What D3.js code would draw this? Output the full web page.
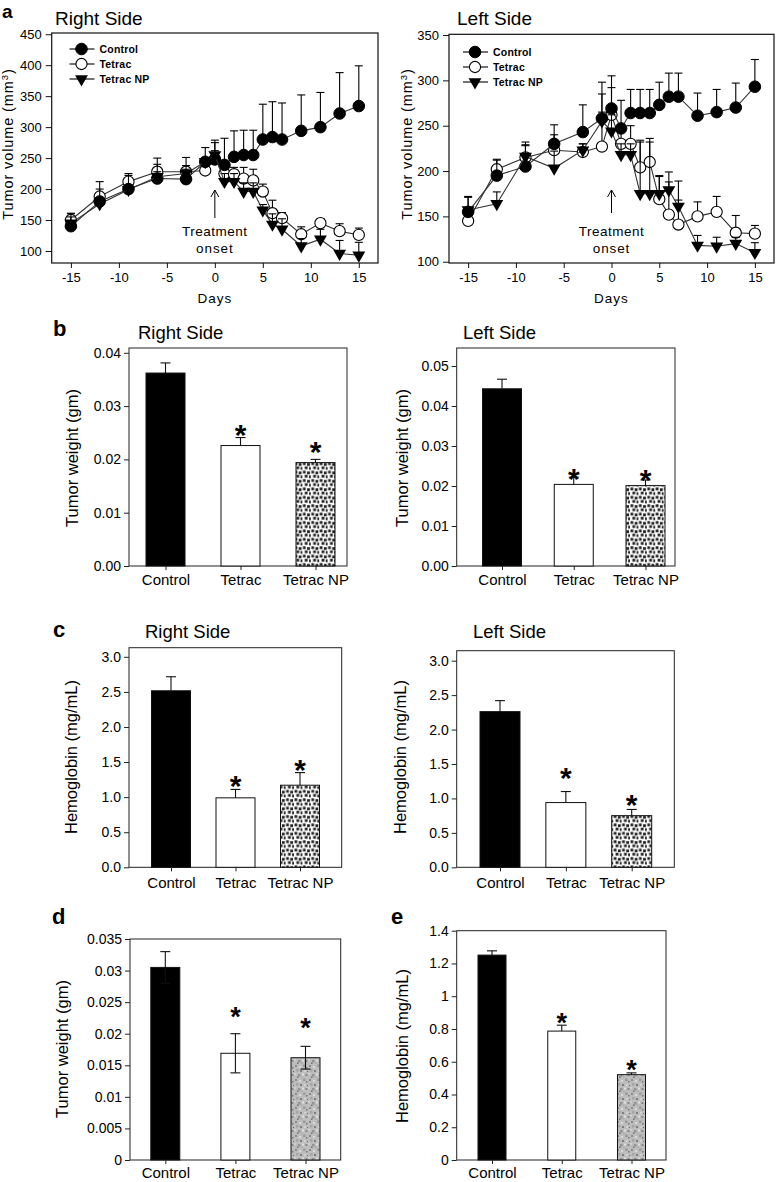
<!DOCTYPE html>
<html><head><meta charset="utf-8">
<script src="https://cdn.jsdelivr.net/npm/d3@7"></script>
<style>
body{margin:0;background:#fff}
svg{display:block}
text{font-family:"Liberation Sans",Arial,Helvetica,sans-serif;fill:#000}
</style>
</head><body>
<svg id="fig" width="777" height="1182"></svg>
<script>
// ---------- DATA ----------
const days = [-15,-12,-9,-6,-3,-1,0,1,2,3,4,5,6,7,9,11,13,15];
const seriesNames = ["Control","Tetrac","Tetrac NP"];
const dayTicks = [-15,-10,-5,0,5,10,15];

// Panel a, right side (tumor volume, mm3) and upper SEM
const rightControl    = [140,180,200,217,216,244,248,239,252,255,255,280,284,280,294,300,322,334];
const rightControlErr = [20,32,25,33,35,23,31,43,42,40,40,57,57,59,58,56,66,65];
const rightTetrac     = [150,188,212,228,228,230,248,225,224,217,214,196,161,153,127,145,132,126];
const rightTetracErr  = [11,12,10,12,10,8,27,15,11,18,18,12,21,9,12,7,12,11];
const rightNP         = [145,176,199,220,225,244,255,212,212,196,196,166,143,135,108,119,96,93];
const rightNPErr      = [10,9,8,8,7,6,7,13,13,14,14,9,17,17,12,16,21,21];
const rightVolTicks   = [100,150,200,250,300,350,400,450];

// Panel a, left side
const leftControl    = [155,195,205,230,243,258,269,247,264,264,264,273,282,282,261,265,270,293];
const leftControlErr = [17,18,24,21,30,40,36,31,26,26,26,25,26,26,25,25,27,30];
const leftTetrac     = [145,202,215,223,221,227,262,230,230,204,210,169,152,141,150,155,132,131];
const leftTetracErr  = [5,10,13,17,9,58,30,15,20,30,26,25,36,27,16,17,19,9];
const leftNP         = [157,164,216,203,223,255,244,218,218,175,175,175,179,161,118,117,120,110];
const leftNPErr      = [14,13,16,19,7,10,18,12,12,57,57,20,20,28,11,10,7,11];
const leftVolTicks   = [100,150,200,250,300,350];

// Bar panels
const categories = ["Control","Tetrac","Tetrac NP"];
const weightRight = [0.0362,0.0226,0.0194];   const weightRightErr = [0.0019,0.0015,0.0006];
const weightLeft  = [0.0443,0.0204,0.0201];   const weightLeftErr  = [0.0024,0.0018,0.0014];
const hbRight     = [2.516,0.99,1.17];        const hbRightErr     = [0.20,0.12,0.18];
const hbLeft      = [2.26,0.94,0.75];         const hbLeftErr      = [0.16,0.16,0.09];
const weightD     = [0.0305,0.0169,0.0162];   const weightDErr     = [0.0025,0.0031,0.0018];
const hbE         = [1.251,0.787,0.521];      const hbEErr         = [0.026,0.036,0.011];
const significant = [false,true,true];

const weightRightTicks = [0,0.01,0.02,0.03,0.04];
const weightLeftTicks  = [0,0.01,0.02,0.03,0.04,0.05];
const hbTicks          = [0,0.5,1.0,1.5,2.0,2.5,3.0];
const weightDTicks     = [0,0.005,0.01,0.015,0.02,0.025,0.03,0.035];
const hbETicks         = [0,0.2,0.4,0.6,0.8,1.0,1.2,1.4];

// ---------- DRAWING ----------
const svg = d3.select("#fig");
const defs = svg.append("defs");

// checker pattern (panels b, c)
const chk = defs.append("pattern").attr("id","checker").attr("patternUnits","userSpaceOnUse")
  .attr("width",8.4).attr("height",8.4);
chk.append("rect").attr("width",8.4).attr("height",8.4).attr("fill","#fff");
[[0.5,0.3],[4.7,1.1],[2.4,4.4],[6.6,5.0]].forEach(p=>{
  chk.append("rect").attr("x",p[0]).attr("y",p[1]).attr("width",2.8).attr("height",2.8).attr("fill","#222");
});
// mottled grey texture (panels d, e)
const mot = defs.append("pattern").attr("id","mottle").attr("patternUnits","userSpaceOnUse")
  .attr("width",14).attr("height",14);
mot.append("rect").attr("width",14).attr("height",14).attr("fill","#bdbdbd");
const spots = [[1,1,2,"#8a8a8a"],[5,2,2,"#d8d8d8"],[9,0.5,2.5,"#9a9a9a"],[12,3,1.5,"#777"],
  [2,5,2.5,"#a5a5a5"],[6,6,2,"#7e7e7e"],[10,6,2,"#d0d0d0"],[0,9,2,"#cfcfcf"],[4,10,2.5,"#939393"],
  [8,9.5,2,"#e0e0e0"],[11.5,10,2,"#888"],[3,12.5,1.5,"#6f6f6f"],[7,12.5,1.5,"#aaa"],[13,7,1,"#666"]];
spots.forEach(s=>mot.append("rect").attr("x",s[0]).attr("y",s[1]).attr("width",s[2]).attr("height",s[2]).attr("fill",s[3]));

function letter(t,x,y,size){
  svg.append("text").attr("x",x).attr("y",y).attr("font-size",size||22).attr("font-weight","bold").text(t);
}
function title(t,x,y,size){
  svg.append("text").attr("x",x).attr("y",y).attr("font-size",size||18.5).text(t);
}
function yTitle(t,x,yc,size,ls){
  svg.append("text").attr("transform",`translate(${x},${yc}) rotate(-90)`)
    .attr("text-anchor","middle").attr("font-size",size).attr("letter-spacing",ls||0).text(t);
}

function linePanel(cfg){
  const g = svg.append("g");
  const x = d3.scaleLinear().domain([-17,17]).range([cfg.x0,cfg.x1]);
  const y = d3.scaleLinear().domain(cfg.yDom).range([cfg.y1,cfg.y0]);
  g.append("rect").attr("x",cfg.x0).attr("y",cfg.y0).attr("width",cfg.x1-cfg.x0).attr("height",cfg.y1-cfg.y0)
    .attr("fill","none").attr("stroke","#111").attr("stroke-width",1.2);
  const ya = g.append("g").attr("transform",`translate(${cfg.x0},0)`)
    .call(d3.axisLeft(y).tickValues(cfg.yTicks).tickSize(6).tickPadding(4).tickFormat(d3.format("d")));
  const xa = g.append("g").attr("transform",`translate(0,${cfg.y1})`)
    .call(d3.axisBottom(x).tickValues(dayTicks).tickSize(5).tickPadding(5).tickFormat(d=>String(d)));
  [ya,xa].forEach(a=>{a.select(".domain").remove();
    a.selectAll("text").attr("font-size",13).attr("font-family",'"Liberation Sans",Arial,sans-serif').attr("fill","#111");
    a.selectAll("line").attr("stroke","#111");});
  const order = [1,0,2];
  order.forEach(si=>{
    const vals = cfg.series[si], errs = cfg.errs[si];
    const pts = days.map((d,i)=>({d, v:vals[i], e:errs[i]}));
    pts.forEach(p=>{
      g.append("line").attr("x1",x(p.d)).attr("x2",x(p.d)).attr("y1",y(p.v)).attr("y2",y(p.v+p.e))
        .attr("stroke","#000").attr("stroke-width",1.1);
      g.append("line").attr("x1",x(p.d)-4).attr("x2",x(p.d)+4).attr("y1",y(p.v+p.e)).attr("y2",y(p.v+p.e))
        .attr("stroke","#000").attr("stroke-width",1.1);
    });
    g.append("path").datum(pts).attr("fill","none").attr("stroke","#333").attr("stroke-width",1.1)
      .attr("d",d3.line().x(p=>x(p.d)).y(p=>y(p.v)));
    pts.forEach(p=>drawMarker(g,si,x(p.d),y(p.v)));
  });
  seriesNames.forEach((n,i)=>{
    const ly = cfg.legY + i*15;
    g.append("line").attr("x1",cfg.legX-12).attr("x2",cfg.legX+13).attr("y1",ly).attr("y2",ly)
      .attr("stroke","#000").attr("stroke-width",1.1);
    drawMarker(g,i,cfg.legX,ly);
    g.append("text").attr("x",cfg.legX+18).attr("y",ly+4).attr("font-size",10.5).attr("font-weight","bold")
      .attr("letter-spacing",0.2).attr("fill","#111").text(n);
  });
  const ax = x(0);
  g.append("line").attr("x1",ax).attr("x2",ax).attr("y1",cfg.arrowBottom).attr("y2",190).attr("stroke","#000").attr("stroke-width",1);
  g.append("path").attr("d",`M${ax-4},${197}L${ax},${190}L${ax+4},${197}`).attr("fill","none").attr("stroke","#000").attr("stroke-width",1);
  g.append("text").attr("x",ax).attr("y",236).attr("text-anchor","middle").attr("font-size",13.5).attr("letter-spacing",0.5).attr("fill","#111").text("Treatment");
  g.append("text").attr("x",ax).attr("y",253).attr("text-anchor","middle").attr("font-size",13.5).attr("letter-spacing",0.9).attr("fill","#111").text("onset");
  g.append("text").attr("x",x(0)).attr("y",303).attr("text-anchor","middle").attr("font-size",13.5).attr("letter-spacing",1).text("Days");
}
function drawMarker(g,si,cx,cy){
  if(si===0){
    g.append("circle").attr("cx",cx).attr("cy",cy).attr("r",5.8).attr("fill","#000").attr("stroke","#000");
  } else if(si===1){
    g.append("circle").attr("cx",cx).attr("cy",cy).attr("r",5.6).attr("fill","#fff").attr("stroke","#000").attr("stroke-width",1.1);
  } else {
    g.append("path").attr("transform",`translate(${cx},${cy}) rotate(180)`)
      .attr("d",d3.symbol(d3.symbolTriangle,72)()).attr("fill","#000");
  }
}

function barPanel(cfg){
  const g = svg.append("g");
  const x = d3.scalePoint().domain(categories).range([cfg.c0,cfg.c2]);
  const y = d3.scaleLinear().domain([0,cfg.yMax]).range([cfg.y1,cfg.y0]);
  g.append("rect").attr("x",cfg.x0).attr("y",cfg.y0).attr("width",cfg.x1-cfg.x0).attr("height",cfg.y1-cfg.y0)
    .attr("fill","none").attr("stroke","#222").attr("stroke-width",1);
  const data = categories.map((c,i)=>({c, v:cfg.vals[i], e:cfg.errs[i], s:significant[i], fill:cfg.fills[i]}));
  g.selectAll("rect.bar").data(data).join("rect").attr("class","bar")
    .attr("x",d=>x(d.c)-cfg.bw/2).attr("width",cfg.bw)
    .attr("y",d=>y(d.v)).attr("height",d=>y(0)-y(d.v))
    .attr("fill",d=>d.fill).attr("stroke","#111").attr("stroke-width",1);
  data.forEach(d=>{
    const lo = cfg.both ? d.v-d.e : d.v;
    g.append("line").attr("x1",x(d.c)).attr("x2",x(d.c)).attr("y1",y(lo)).attr("y2",y(d.v+d.e)).attr("stroke","#111").attr("stroke-width",1.1);
    g.append("line").attr("x1",x(d.c)-cfg.cap).attr("x2",x(d.c)+cfg.cap).attr("y1",y(d.v+d.e)).attr("y2",y(d.v+d.e)).attr("stroke","#111").attr("stroke-width",1.1);
    if(cfg.both){
      g.append("line").attr("x1",x(d.c)-cfg.cap).attr("x2",x(d.c)+cfg.cap).attr("y1",y(lo)).attr("y2",y(lo)).attr("stroke","#111").attr("stroke-width",1.1);
    }
  });
  data.forEach((d,i)=>{
    if(!d.s) return;
    const cy = y(d.v+d.e) - cfg.starGap[i];
    g.append("text").attr("x",x(d.c)).attr("y",cy+cfg.starSize*0.6).attr("text-anchor","middle")
      .attr("font-size",cfg.starSize).attr("font-weight","bold").text("*");
  });
  const ya = g.append("g").attr("transform",`translate(${cfg.x0},0)`)
    .call(d3.axisLeft(y).tickValues(cfg.ticks).tickSize(5).tickPadding(3).tickFormat(cfg.fmt));
  const xa = g.append("g").attr("transform",`translate(0,${cfg.y1})`)
    .call(d3.axisBottom(x).tickSize(4).tickPadding(cfg.xPad));
  [ya,xa].forEach(a=>{a.select(".domain").remove();
    a.selectAll("line").attr("stroke","#222");
    a.selectAll("text").attr("font-family",'"Liberation Sans",Arial,sans-serif').attr("fill","#111");});
  ya.selectAll("text").attr("font-size",14);
  xa.selectAll("text").attr("font-size",15);
}

// ----- panel a -----
letter("a",2,18,19);
title("Right Side",55,25,19);
title("Left Side",457,25,19);
linePanel({x0:51.7,x1:378,y0:33,y1:263,yDom:[80.6,452],yTicks:rightVolTicks,
  series:[rightControl,rightTetrac,rightNP],errs:[rightControlErr,rightTetracErr,rightNPErr],
  legX:81.5,legY:49,arrowBottom:218});
linePanel({x0:449,x1:774,y0:34.3,y1:263,yDom:[98.6,350.8],yTicks:leftVolTicks,
  series:[leftControl,leftTetrac,leftNP],errs:[leftControlErr,leftTetracErr,leftNPErr],
  legX:475,legY:52,arrowBottom:213});
svg.append("text").attr("transform","translate(13,144) rotate(-90)").attr("text-anchor","middle")
  .attr("font-size",14.5).attr("letter-spacing",0.9).html('Tumor volume (mm<tspan dy="-5" font-size="9.5">3</tspan><tspan dy="5">)</tspan>');
svg.append("text").attr("transform","translate(412,144) rotate(-90)").attr("text-anchor","middle")
  .attr("font-size",14.5).attr("letter-spacing",0.9).html('Tumor volume (mm<tspan dy="-5" font-size="9.5">3</tspan><tspan dy="5">)</tspan>');

// ----- panel b -----
letter("b",53,336);
title("Right Side",138,339);
title("Left Side",463,339);
const f2 = d3.format(".2f"), f1 = d3.format(".1f");
const fTrim = d=>d===0?"0":String(+d.toFixed(3));
barPanel({x0:129,x1:347,y0:348,y1:566,yMax:0.0409,ticks:weightRightTicks,fmt:f2,
  c0:165.5,c2:315.5,bw:39,vals:weightRight,errs:weightRightErr,fills:["#000","#fff","url(#checker)"],
  cap:5,both:false,starGap:[0,11,15],starSize:30,xPad:4});
barPanel({x0:456.7,x1:675,y0:348,y1:566,yMax:0.0545,ticks:weightLeftTicks,fmt:f2,
  c0:502,c2:645.5,bw:39,vals:weightLeft,errs:weightLeftErr,fills:["#000","#fff","url(#checker)"],
  cap:5,both:false,starGap:[0,6,8],starSize:30,xPad:4});
yTitle("Tumor weight (gm)",78,458,16.5);
yTitle("Tumor weight (gm)",408,458,16.5);

// ----- panel c -----
letter("c",53,637);
title("Right Side",145,638);
title("Left Side",473,638);
barPanel({x0:129,x1:341.7,y0:647.7,y1:867.3,yMax:3.13,ticks:hbTicks,fmt:f1,
  c0:171,c2:300,bw:39,vals:hbRight,errs:hbRightErr,fills:["#000","#fff","url(#checker)"],
  cap:5,both:false,starGap:[0,11,11],starSize:30,xPad:6.5});
barPanel({x0:456.7,x1:674.3,y0:650.7,y1:867.3,yMax:3.145,ticks:hbTicks,fmt:f1,
  c0:500,c2:631.7,bw:40,vals:hbLeft,errs:hbLeftErr,fills:["#000","#fff","url(#checker)"],
  cap:5,both:false,starGap:[0,22,12],starSize:30,xPad:6.5});
yTitle("Hemoglobin (mg/mL)",77,757,16.5);
yTitle("Hemoglobin (mg/mL)",406,757,16.5);

// ----- panel d -----
letter("d",52,924);
barPanel({x0:130,x1:340.7,y0:939,y1:1160,yMax:0.035,ticks:weightDTicks,fmt:fTrim,
  c0:165.3,c2:305.5,bw:29,vals:weightD,errs:weightDErr,fills:["#000","#fff","url(#mottle)"],
  cap:5,both:true,starGap:[0,24,26],starSize:27,xPad:3.5});
yTitle("Tumor weight (gm)",68,1049,16.5);

// ----- panel e -----
letter("e",391,924);
barPanel({x0:456.7,x1:666,y0:930.7,y1:1160,yMax:1.4,ticks:hbETicks,fmt:fTrim,
  c0:492,c2:631.5,bw:28,vals:hbE,errs:hbEErr,fills:["#000","#fff","url(#mottle)"],
  cap:5,both:false,starGap:[0,9,10],starSize:27,xPad:3.5});
yTitle("Hemoglobin (mg/mL)",408,1046,16.5);
</script>
</body></html>
